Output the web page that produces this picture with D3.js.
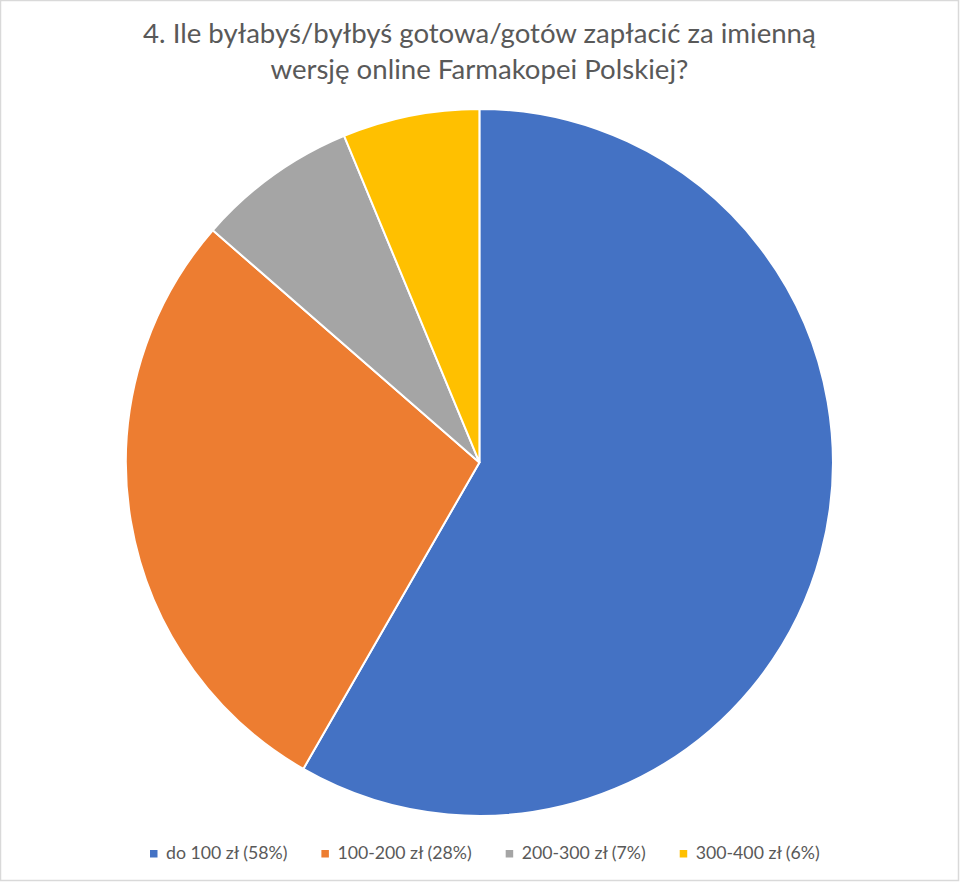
<!DOCTYPE html>
<html>
<head>
<meta charset="utf-8">
<script src="https://cdn.jsdelivr.net/npm/d3@7"></script>
<style>
  body { margin: 0; background: #fff; }
  svg { display: block; }
  text { font-family: Lato, "Open Sans", sans-serif; fill: #595959; }
</style>
</head>
<body>
<div id="chart"></div>
<script>
// data
var categories = ["do 100 zł (58%)", "100-200 zł (28%)", "200-300 zł (7%)", "300-400 zł (6%)"];
var values = [58.3, 28.1, 7.35, 6.25];
var colors = ["#4472C4", "#ED7D31", "#A5A5A5", "#FFC000"];
var titleLines = ["4. Ile byłabyś/byłbyś gotowa/gotów zapłacić za imienną", "wersję online Farmakopei Polskiej?"];

var width = 960, height = 882;
var cx = 479.4, cy = 462.4, radius = 353.5;

var svg = d3.select("#chart").append("svg")
    .attr("width", width)
    .attr("height", height);

svg.append("rect")
    .attr("x", 0.5).attr("y", 0.5)
    .attr("width", width - 2).attr("height", height - 2)
    .attr("fill", "#fff")
    .attr("stroke", "#d9d9d9")
    .attr("stroke-width", 1.5);

// title, sized so the first line spans like the reference
var title = svg.append("g");
var t1 = title.append("text")
    .attr("x", cx).attr("y", 42.5)
    .attr("text-anchor", "middle")
    .style("font-size", "28px")
    .text(titleLines[0]);
var w1 = t1.node().getComputedTextLength();
var fs = 28 * 673 / w1;
t1.style("font-size", fs + "px");
title.append("text")
    .attr("x", cx).attr("y", 78.5)
    .attr("text-anchor", "middle")
    .style("font-size", fs + "px")
    .text(titleLines[1]);

// pie
var pie = d3.pie().sort(null).value(function(d) { return d; });
var arc = d3.arc().innerRadius(0).outerRadius(radius);

var root = svg.append("g")
    .attr("transform", "translate(" + cx + "," + cy + ")");

root.selectAll("path")
    .data(pie(values))
    .enter().append("path")
    .attr("d", arc)
    .attr("fill", function(d, i) { return colors[i]; })
    .attr("stroke", "#fff")
    .attr("stroke-width", 2)
    .attr("stroke-linejoin", "round");

// legend, laid out from measured text widths
var gap = 34, pad = 16, legLeft = 150, legRight = 820;
var legend = svg.append("g");
var items = legend.selectAll("g")
    .data(categories)
    .enter().append("g");
items.append("rect")
    .attr("width", 7.5).attr("height", 7.5)
    .attr("y", -9)
    .attr("fill", function(d, i) { return colors[i]; });
var labels = items.append("text")
    .attr("x", pad)
    .style("font-size", "16px")
    .text(function(d) { return d; });

var sumW = 0;
labels.each(function() { sumW += this.getComputedTextLength(); });
var want = (legRight - legLeft) - categories.length * pad - (categories.length - 1) * gap;
labels.style("font-size", (16 * want / sumW) + "px");

var xpos = 0;
items.each(function() {
    var g = d3.select(this);
    var tw = g.select("text").node().getComputedTextLength();
    g.attr("transform", "translate(" + xpos + ",0)");
    xpos += pad + tw + gap;
});
legend.attr("transform", "translate(" + legLeft + ",859)");
</script>
</body>
</html>
